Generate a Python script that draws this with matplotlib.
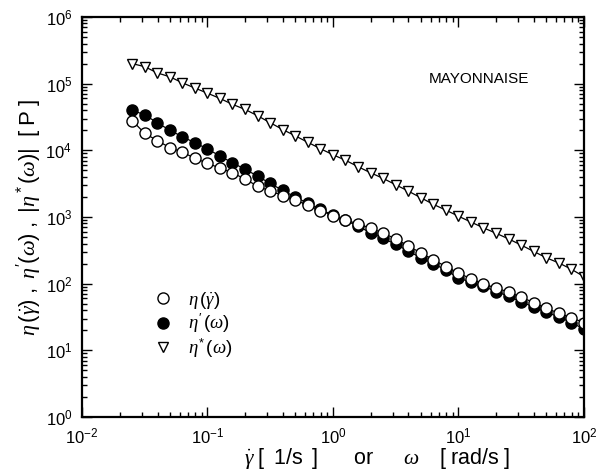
import matplotlib

matplotlib.use('Agg')
import matplotlib.pyplot as plt
from matplotlib.lines import Line2D

plt.rcParams['font.family'] = ['Liberation Sans', 'DejaVu Sans']
plt.rcParams['mathtext.fontset'] = 'custom'
plt.rcParams['mathtext.rm'] = 'Liberation Sans'
plt.rcParams['mathtext.it'] = 'Liberation Serif:italic'
plt.rcParams['mathtext.bf'] = 'Liberation Sans:bold'

# frequency / shear rate
rate = [0.0251, 0.0316, 0.0398, 0.0501, 0.0631, 0.0794,
        0.1, 0.126, 0.158, 0.2, 0.251, 0.316, 0.398, 0.501, 0.631, 0.794,
        1.0, 1.26, 1.58, 2.0, 2.51, 3.16, 3.98, 5.01, 6.31, 7.94,
        10, 12.6, 15.8, 20, 25.1, 31.6, 39.8, 50.1, 63.1, 79.4, 100]

# steady shear viscosity eta(gamma dot)
eta_shear = [2.8e4, 1.8e4, 1.4e4, 1.1e4, 9.4e3, 7.6e3,
             6.4e3, 5.4e3, 4.6e3, 3.7e3, 2.9e3, 2.45e3, 2.1e3, 1.8e3, 1.5e3, 1.25e3,
             1.05e3, 900, 790, 680, 575, 470, 370, 290, 230, 180,
             145, 118, 99, 86, 75, 63, 52, 43, 36, 31, 26]

# dynamic viscosity eta'(omega)
eta_dyn = [4.0e4, 3.4e4, 2.6e4, 2.0e4, 1.6e4, 1.3e4,
           1.05e4, 8.2e3, 6.5e3, 5.2e3, 4.1e3, 3.2e3, 2.5e3, 2.0e3, 1.6e3, 1.3e3,
           1.07e3, 890, 730, 580, 480, 390, 310, 245, 200, 160,
           122, 105, 92, 76, 65, 53, 45, 37, 32, 26, 21]

# complex viscosity |eta*(omega)|
eta_cplx = [2.0e5, 1.8e5, 1.45e5, 1.27e5, 1.03e5, 8.6e4,
            7.2e4, 6.0e4, 4.9e4, 4.1e4, 3.3e4, 2.6e4, 2.05e4, 1.65e4, 1.32e4, 1.06e4,
            8.6e3, 7.1e3, 5.7e3, 4.6e3, 3.8e3, 3.05e3, 2.45e3, 1.95e3, 1.55e3, 1.27e3,
            1.03e3, 840, 690, 570, 470, 380, 305, 245, 205, 165, 128]

fig = plt.figure(figsize=(6.05, 4.72), dpi=100)
ax = fig.add_axes([0.1355, 0.1165, 0.8295, 0.8475])

ms = 8.0
ms_tri = 7.5
ax.plot(rate, eta_cplx, color='black', lw=0.9, marker='v', ms=ms_tri,
        mfc='white', mec='black', mew=1.0)
ax.plot(rate, eta_dyn, color='black', lw=0.9, marker='o', ms=ms,
        mfc='black', mec='black', mew=1.0)
ax.plot(rate, eta_shear, color='black', lw=0.9, marker='o', ms=ms,
        mfc='white', mec='black', mew=1.0)

ax.set_xscale('log')
ax.set_yscale('log')
ax.set_xlim(1e-2, 1e2)
ax.set_ylim(1e0, 1e6)

for s in ax.spines.values():
    s.set_linewidth(1.6)
ax.tick_params(which='both', direction='in', top=True, right=True,
               labelsize=12, width=1.0)
ax.tick_params(which='major', length=7, pad=7)
ax.tick_params(which='minor', length=3.5)

ax.set_ylabel(r"$\eta\,(\dot{\gamma})\ ,\ \eta'(\omega)\ ,\ |\eta^*(\omega)|\ \ \mathrm{[\ P\ ]}$",
              fontsize=16, labelpad=1)
ax.set_xlabel(r'$\dot{\gamma}\ \mathrm{[\;\ 1/s\ \;]}\quad\quad\ \mathrm{or}\quad\ \ \ \omega\quad\ \mathrm{[\ rad/s\ ]}$',
              fontsize=15.5)
ax.xaxis.set_label_coords(0.588, -0.072)

ax.text(0.69, 0.835, 'MAYONNAISE', transform=ax.transAxes, fontsize=11)

handles = [
    Line2D([], [], ls='none', marker='o', ms=ms, mfc='white', mec='black'),
    Line2D([], [], ls='none', marker='o', ms=ms, mfc='black', mec='black'),
    Line2D([], [], ls='none', marker='v', ms=ms_tri, mfc='white', mec='black'),
]
labels = [r'$\eta\,(\dot{\gamma})$', r"$\eta'\,(\omega)$", r'$\eta^{*}\,(\omega)$']
ax.legend(handles, labels, loc='upper left', bbox_to_anchor=(0.11, 0.36),
          frameon=False, fontsize=13.5, handlelength=1.0, handletextpad=0.8,
          labelspacing=0.05)

plt.savefig('out.png', dpi=100)
